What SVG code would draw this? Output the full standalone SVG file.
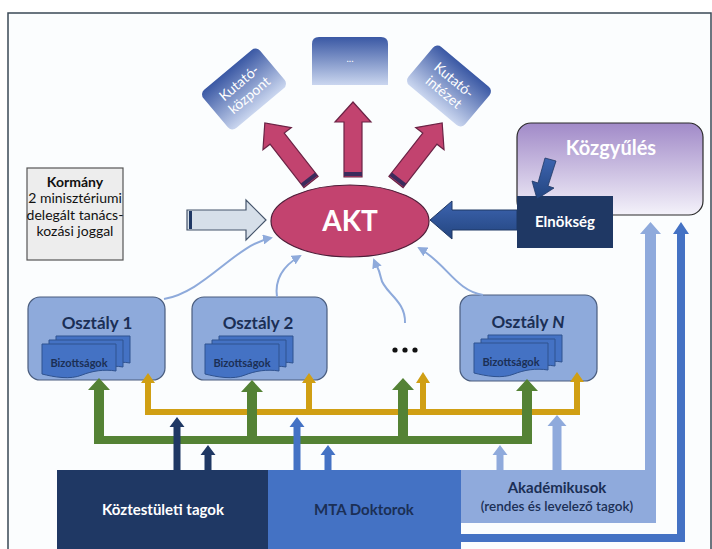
<svg xmlns="http://www.w3.org/2000/svg" width="712" height="549" viewBox="0 0 712 549">
<style>
text{font-family:Lato,"Open Sans","Liberation Sans",sans-serif;text-anchor:middle}
.b{font-weight:bold}
.w{fill:#ffffff}
.nv{fill:#1b2f55}
.oszt{fill:#8eaadb;stroke:#4a5d7e;stroke-width:1.2}
.doc{fill:#4472c4;stroke:#2f528f;stroke-width:1}
.thin{fill:none;stroke:#8eaadb;stroke-width:2;marker-end:url(#ah)}
.pink{fill:#c2436f;stroke:#6b2345;stroke-width:1.2}
.band{fill:#3b2b5c}
.gr{fill:#548235}
.yl{fill:#d09f14}
.navy{fill:#1f3864}
.mb{fill:#4472c4}
.lb{fill:#8faadc}
</style>
<defs>
<linearGradient id="tg" x1="0" y1="0" x2="0" y2="1">
<stop offset="0" stop-color="#3a58a4"/><stop offset="1" stop-color="#cad6ef"/>
</linearGradient>
<linearGradient id="kg" x1="0" y1="0" x2="0" y2="1">
<stop offset="0" stop-color="#a18ac8"/><stop offset="1" stop-color="#f4f2fa"/>
</linearGradient>
<linearGradient id="eg" x1="0" y1="0" x2="0" y2="1">
<stop offset="0" stop-color="#3d64b0"/><stop offset="1" stop-color="#23457f"/>
</linearGradient>
<marker id="ah" viewBox="0 0 10 10" refX="8" refY="5" markerWidth="5" markerHeight="5" orient="auto" markerUnits="strokeWidth">
<path d="M0,0 L10,5 L0,10 Z" fill="#8eaadb"/>
</marker>
<path id="doc" d="M0,0 H74 V27 C62,25 50,27 40,31 C28,36 12,33 0,30 Z"/>
<path id="pk" d="M-9,0 L-9,-55 L-18,-55 L0,-75 L18,-55 L9,-55 L9,0 Z"/>
</defs>

<rect x="8" y="13" width="703" height="545" fill="#fbfdfe" stroke="#3a4855" stroke-width="1.5"/>

<!-- top boxes -->
<g id="kutatokozpont" transform="translate(244,89) rotate(-40)">
<rect x="-37" y="-25" width="74" height="50" rx="6" fill="url(#tg)"/>
<text class="w" y="-3" font-size="14">Kutató-</text>
<text class="w" y="13" font-size="14">központ</text>
</g>
<g id="egyeb">
<path d="M312,85 V44 Q312,37 319,37 H381 Q388,37 388,44 V85 Z" fill="url(#tg)"/>
<text class="w" x="350" y="62" font-size="10">...</text>
</g>
<g id="kutatointezet" transform="translate(449,86) rotate(40)">
<rect x="-37" y="-25" width="74" height="50" rx="6" fill="url(#tg)"/>
<text class="w" y="-3" font-size="14">Kutató-</text>
<text class="w" y="13" font-size="14">intézet</text>
</g>

<!-- AKT -->
<g id="akt">
<ellipse cx="350" cy="221" rx="79" ry="36" fill="#c3436f" stroke="#4e1d38" stroke-width="1.2"/>
<text class="w b" x="350" y="231" font-size="28">AKT</text>
</g>

<!-- Kormany -->
<g id="kormany">
<rect x="27" y="168" width="96" height="92" fill="#ededed" stroke="#555555" stroke-width="1.2"/>
<text class="b" x="75" y="187" font-size="14" fill="#111">Kormány</text>
<text x="75" y="203" font-size="14" fill="#111">2 minisztériumi</text>
<text x="75" y="220" font-size="14" fill="#111">delegált tanács-</text>
<text x="75" y="236" font-size="14" fill="#111">kozási joggal</text>
</g>

<!-- Kozgyules & Elnokseg -->
<g id="kozgyules">
<rect x="517" y="123" width="186" height="92" rx="14" fill="url(#kg)" stroke="#2b2b2b" stroke-width="1.2"/>
<text class="w b" x="611" y="155" font-size="20">Közgyűlés</text>
</g>
<g id="elnokseg">
<rect x="517" y="196" width="96" height="52" fill="#1f3864"/>
<text class="w b" x="565" y="227" font-size="15">Elnökség</text>
</g>

<!-- Osztaly boxes -->
<g id="osztaly1">
<rect class="oszt" x="28" y="297" width="137" height="83" rx="12"/>
<text class="nv b" x="97" y="329" font-size="17">Osztály 1</text>
<use href="#doc" class="doc" x="56" y="336"/>
<use href="#doc" class="doc" x="49" y="340"/>
<use href="#doc" class="doc" x="42" y="344"/>
<text class="nv b" x="79" y="367" font-size="11">Bizottságok</text>
</g>
<g id="osztaly2">
<rect class="oszt" x="192" y="297" width="135" height="83" rx="12"/>
<text class="nv b" x="258" y="329" font-size="17">Osztály 2</text>
<use href="#doc" class="doc" x="219" y="336"/>
<use href="#doc" class="doc" x="212" y="340"/>
<use href="#doc" class="doc" x="205" y="344"/>
<text class="nv b" x="242" y="367" font-size="11">Bizottságok</text>
</g>
<g id="osztalyN">
<rect class="oszt" x="460" y="295" width="137" height="86" rx="12"/>
<text class="nv b" x="528" y="328" font-size="17">Osztály <tspan font-style="italic">N</tspan></text>
<use href="#doc" class="doc" x="488" y="335"/>
<use href="#doc" class="doc" x="481" y="339"/>
<use href="#doc" class="doc" x="474" y="343"/>
<text class="nv b" x="511" y="366" font-size="11">Bizottságok</text>
</g>
<g id="tobbi">
<circle cx="395" cy="350" r="2.6" fill="#111"/>
<circle cx="405" cy="350" r="2.6" fill="#111"/>
<circle cx="415" cy="350" r="2.6" fill="#111"/>
</g>

<!-- bottom boxes -->
<g id="akademikusok">
<path class="lb" d="M461,470 H645 V234 H640 L650.5,222 L661,234 H656 V523 H461 Z"/>
<text class="nv b" x="557" y="493" font-size="15">Akadémikusok</text>
<text class="nv" x="557" y="511" font-size="13.5" font-weight="600">(rendes és levelező tagok)</text>
</g>
<g id="mtadoktorok">
<rect class="mb" x="268" y="470" width="193" height="79"/>
<path class="mb" d="M461,534 H677 V234 H673 L681,222 L689,234 H685 V542 H461 Z"/>
<text class="nv b" x="364" y="515" font-size="15">MTA Doktorok</text>
</g>
<g id="koztestuleti">
<rect class="navy" x="57" y="470" width="211" height="79"/>
<text class="w b" x="163" y="515" font-size="15">Köztestületi tagok</text>
</g>

<!-- connectors -->
<g id="connectors">
<g transform="translate(353,177)"><use href="#pk" class="pink"/><rect class="band" x="-9" y="-5" width="18" height="4"/></g>
<g transform="translate(311,182) rotate(-38)"><use href="#pk" class="pink"/><rect class="band" x="-9" y="-5" width="18" height="4"/></g>
<g transform="translate(396,182) rotate(38)"><use href="#pk" class="pink"/><rect class="band" x="-9" y="-5" width="18" height="4"/></g>
<path d="M187,210 H246 V200 L266,220 L246,240 V230 H187 Z" fill="#d6dfe9" stroke="#44546a" stroke-width="1.2"/>
<rect x="189" y="211" width="3" height="18" fill="#1f3864"/>
<path d="M517,210 H452 V201 L430,220 L452,239 V230 H517 Z" fill="url(#eg)" stroke="#1f3864" stroke-width="1"/>
<path d="M545,158 L556,161 L548,186 L554,188 L537,199 L532,181 L538,183 Z" fill="url(#eg)" stroke="#1f3864" stroke-width="0.8"/>
<path class="thin" d="M164,299 C205,292 235,245 271,238"/>
<path class="thin" d="M277,297 C274,276 288,263 300,256"/>
<path class="thin" d="M405,323 C406,300 383,292 381,278 C379,268 376,265 374,260"/>
<path class="thin" d="M483,295 C455,290 447,264 419,248"/>
<path class="yl" d="M145,415 V383 H141 L148,373 L155,383 H151 V409 H306 V383 H302 L309,373 L316,383 H312 V409 H420 V383 H416 L423,372 L430,383 H426 V409 H574 V382 H570 L577,372 L584,382 H580 V415 Z"/>
<path class="gr" d="M94,444 V390 H88 L99,378 L110,390 H104 V436 H247 V392 H241 L252,380 L263,392 H257 V436 H398 V390 H392 L403,378 L414,390 H408 V436 H522 V391 H516 L527,379 L538,391 H532 V444 Z"/>
<path class="navy" d="M173.5,471 V427 H169.5 L177,417 L184.5,427 H180.5 V471 Z"/>
<path class="navy" d="M204.5,471 V455 H200.5 L208,445 L215.5,455 H211.5 V471 Z"/>
<path class="mb" d="M293.5,471 V427 H289.5 L297,417 L304.5,427 H300.5 V471 Z"/>
<path class="mb" d="M324.5,471 V455 H320.5 L328,445 L335.5,455 H331.5 V471 Z"/>
<path class="lb" d="M496.5,471 V455 H492.5 L500,445 L507.5,455 H503.5 V471 Z"/>
<path class="lb" d="M552.5,471 V426 H547.5 L557,415 L566.5,426 H561.5 V471 Z"/>
</g>
</svg>
